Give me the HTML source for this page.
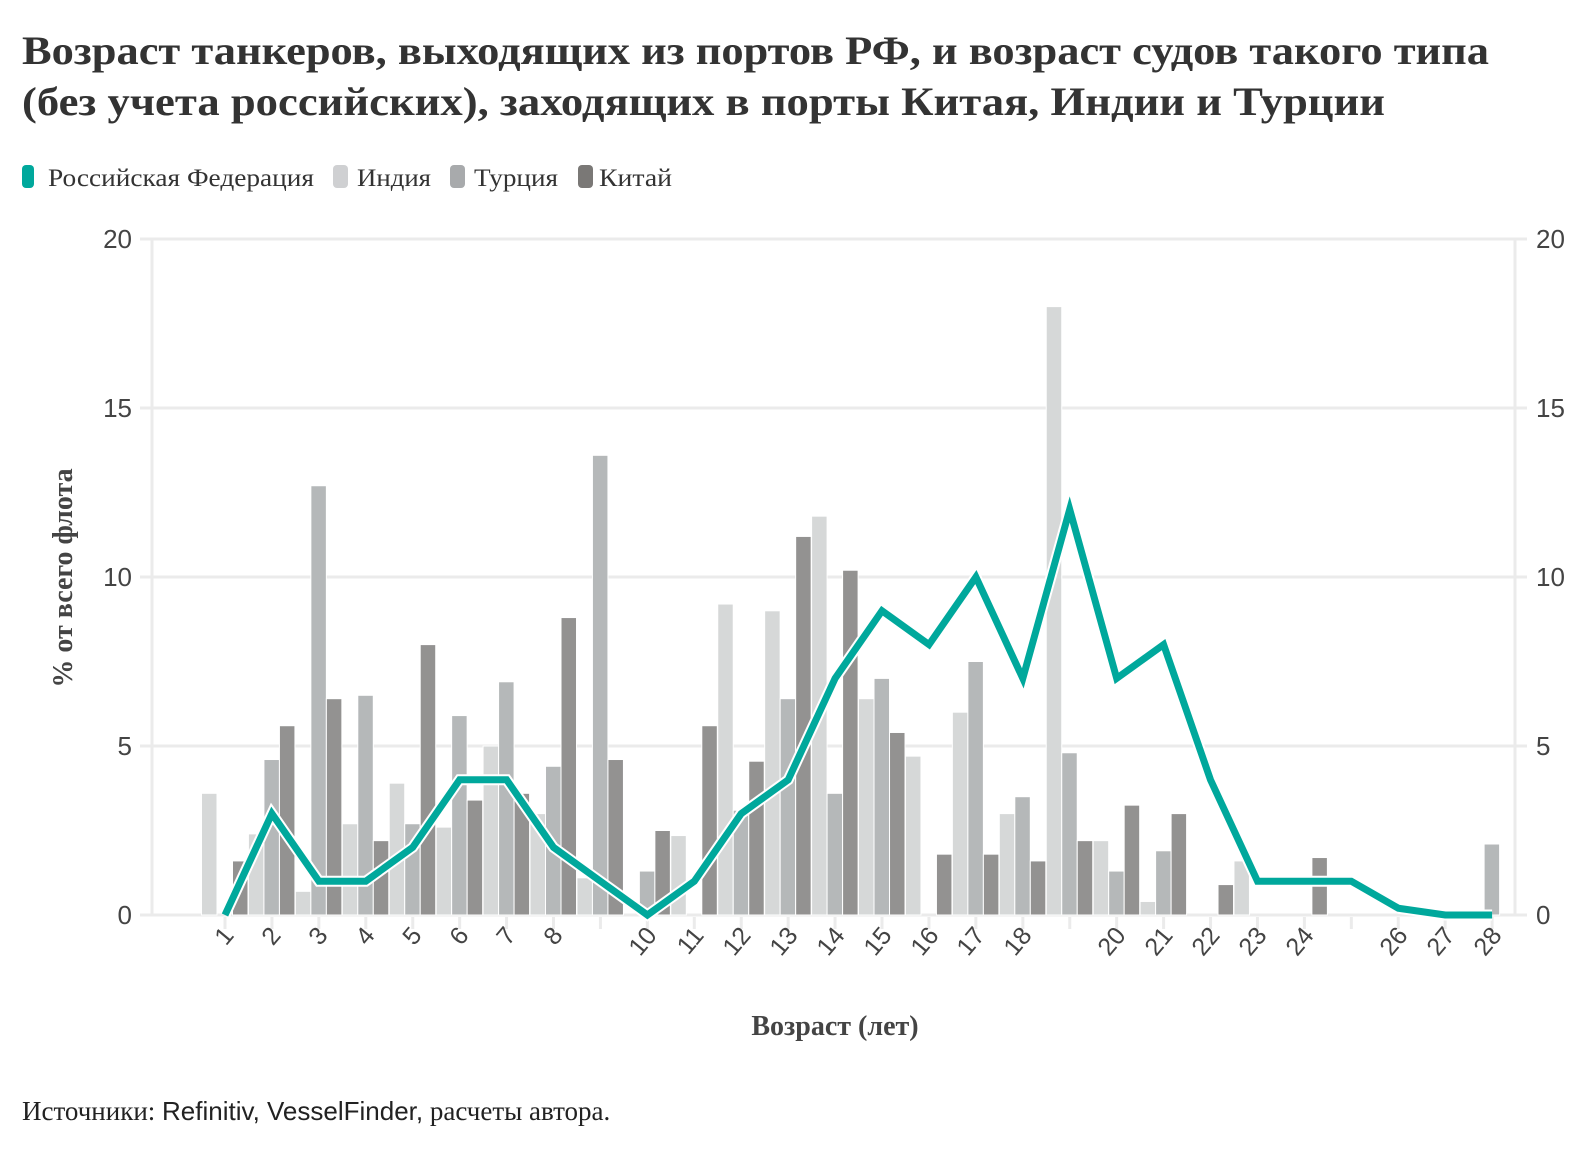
<!DOCTYPE html>
<html><head><meta charset="utf-8"><style>
html,body{margin:0;padding:0;background:#fff;}
svg{display:block;}
</style></head><body>
<svg id="s" width="1590" height="1150" viewBox="0 0 1590 1150" xmlns="http://www.w3.org/2000/svg">
<g font-family="'Liberation Serif', serif" font-weight="bold" fill="#333" font-size="40">
<text x="22" y="64" textLength="1467" lengthAdjust="spacingAndGlyphs">Возраст танкеров, выходящих из портов РФ, и возраст судов такого типа</text>
<text x="22" y="115" textLength="1363" lengthAdjust="spacingAndGlyphs">(без учета российских), заходящих в порты Китая, Индии и Турции</text>
</g>
<g font-family="'Liberation Serif', serif" font-size="25" fill="#333">
<rect x="22" y="165" width="12" height="23" rx="4" fill="#00a89c"/>
<text x="48" y="186" textLength="266" lengthAdjust="spacingAndGlyphs">Российская Федерация</text>
<rect x="333" y="165" width="15" height="23" rx="4" fill="#cfd0d2"/>
<text x="357" y="186" textLength="74" lengthAdjust="spacingAndGlyphs">Индия</text>
<rect x="450" y="165" width="15" height="23" rx="4" fill="#a8aaac"/>
<text x="474" y="186" textLength="84" lengthAdjust="spacingAndGlyphs">Турция</text>
<rect x="578" y="165" width="15" height="23" rx="4" fill="#7a7876"/>
<text x="599" y="186" textLength="73" lengthAdjust="spacingAndGlyphs">Китай</text>
</g>
<g id="grid" stroke="#ebebeb" stroke-width="3"></g>
<g id="bars"></g>
<g id="line"></g>
<g font-family="'Liberation Sans', sans-serif" font-size="26" fill="#444">
<text x="132" y="248" text-anchor="end">20</text>
<text x="132" y="417" text-anchor="end">15</text>
<text x="132" y="586" text-anchor="end">10</text>
<text x="132" y="755" text-anchor="end">5</text>
<text x="132" y="924" text-anchor="end">0</text>
<text x="1536" y="248">20</text>
<text x="1536" y="417">15</text>
<text x="1536" y="586">10</text>
<text x="1536" y="755">5</text>
<text x="1536" y="924">0</text>
</g>
<g font-family="'Liberation Sans', sans-serif" font-size="25" fill="#444" text-anchor="end">
<text transform="translate(235,936) rotate(-50)">1</text>
<text transform="translate(282,936) rotate(-50)">2</text>
<text transform="translate(329,936) rotate(-50)">3</text>
<text transform="translate(376,936) rotate(-50)">4</text>
<text transform="translate(423,936) rotate(-50)">5</text>
<text transform="translate(470,936) rotate(-50)">6</text>
<text transform="translate(517,936) rotate(-50)">7</text>
<text transform="translate(564,936) rotate(-50)">8</text>
<text transform="translate(658,936) rotate(-50)">10</text>
<text transform="translate(705,936) rotate(-50)">11</text>
<text transform="translate(752,936) rotate(-50)">12</text>
<text transform="translate(799,936) rotate(-50)">13</text>
<text transform="translate(846,936) rotate(-50)">14</text>
<text transform="translate(893,936) rotate(-50)">15</text>
<text transform="translate(940,936) rotate(-50)">16</text>
<text transform="translate(986,936) rotate(-50)">17</text>
<text transform="translate(1033,936) rotate(-50)">18</text>
<text transform="translate(1127,936) rotate(-50)">20</text>
<text transform="translate(1174,936) rotate(-50)">21</text>
<text transform="translate(1221,936) rotate(-50)">22</text>
<text transform="translate(1268,936) rotate(-50)">23</text>
<text transform="translate(1315,936) rotate(-50)">24</text>
<text transform="translate(1409,936) rotate(-50)">26</text>
<text transform="translate(1456,936) rotate(-50)">27</text>
<text transform="translate(1503,936) rotate(-50)">28</text>
</g>
<g font-family="'Liberation Serif', serif" font-weight="bold" font-size="28" fill="#444">
<text transform="translate(72,578) rotate(-90)" text-anchor="middle">% от всего флота</text>
<text x="835" y="1035" text-anchor="middle">Возраст (лет)</text>
</g>
<text x="22" y="1120" font-family="'Liberation Serif', serif" font-size="27" fill="#222">Источники: <tspan font-family="'Liberation Sans', sans-serif" font-size="26">Refinitiv, VesselFinder,</tspan> расчеты автора.</text>
<script>
(function(){
var NS="http://www.w3.org/2000/svg";
function el(p,n,a){var e=document.createElementNS(NS,n);for(var k in a)e.setAttribute(k,a[k]);p.appendChild(e);return e;}
var X0=225,DX=46.93,Y0=915,SY=33.8;
function cx(i){return X0+(i-1)*DX;}
var g=document.getElementById('grid');
for(var v=0;v<=20;v+=5){el(g,'line',{x1:140,x2:1527,y1:Y0-v*SY,y2:Y0-v*SY});}
el(g,'line',{x1:152,x2:152,y1:239,y2:915});
el(g,'line',{x1:1515,x2:1515,y1:239,y2:915});
for(var i=1;i<=28;i++){el(g,'line',{x1:cx(i),x2:cx(i),y1:917,y2:929});}
var I=[3.6,2.4,0.7,2.7,3.9,2.6,5.0,3.0,1.1,0,2.35,9.2,9.0,11.8,6.4,4.7,6.0,3.0,18.0,2.2,0.4,0,1.6,0,0,0,0,0];
var T=[0,4.6,12.7,6.5,2.7,5.9,6.9,4.4,13.6,1.3,0,3.1,6.4,3.6,7.0,0,7.5,3.5,4.8,1.3,1.9,0,0,0,0,0,0,2.1];
var C=[1.6,5.6,6.4,2.2,8.0,3.4,3.6,8.8,4.6,2.5,5.6,4.55,11.2,10.2,5.4,1.8,1.8,1.6,2.2,3.25,3.0,0.9,0,1.7,0,0,0,0];
var b=document.getElementById('bars');
function bar(x,v,f){if(v<=0)return;el(b,'rect',{x:x,y:Y0-v*SY,width:15.5,height:v*SY,fill:f,stroke:'#fff','stroke-width':1});}
for(var i=1;i<=28;i++){var c=cx(i);
bar(c-23.5,I[i-1],'#d6d8d8');bar(c-8,T[i-1],'#b5b8b9');bar(c+7.5,C[i-1],'#939291');}
var R=[0,3,1,1,2,4,4,2,1,0,1,3,4,7,9,8,10,7,12,7,8,4,1,1,1,0.2,0,0];
var pts=R.map(function(v,k){return cx(k+1).toFixed(1)+','+(Y0-v*SY).toFixed(1);}).join(' ');
var l=document.getElementById('line');
el(l,'polyline',{points:pts,fill:'none',stroke:'#fff','stroke-width':11,'stroke-linejoin':'miter'});
el(l,'polyline',{points:pts,fill:'none',stroke:'#00a89c','stroke-width':7,'stroke-linejoin':'miter'});
})();
</script>
</svg>
</body></html>
